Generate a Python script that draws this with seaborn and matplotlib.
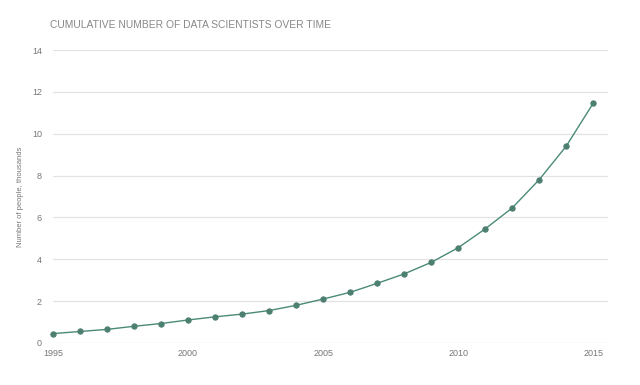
import pandas as pd
import matplotlib.pyplot as plt
import seaborn as sns

# Data
years = list(range(1995, 2016))
people = [0.45, 0.55, 0.65, 0.8, 0.93, 1.1, 1.25, 1.38, 1.55, 1.8, 2.1,
          2.42, 2.85, 3.3, 3.85, 4.55, 5.45, 6.45, 7.8, 9.4, 11.45]
x_ticks = [1995, 2000, 2005, 2010, 2015]
y_ticks = [0, 2, 4, 6, 8, 10, 12, 14]

df = pd.DataFrame({"year": years, "people": people})

sns.set_style("white")
plt.rcParams["font.family"] = ["Liberation Sans", "DejaVu Sans"]

fig = plt.figure(figsize=(6.4, 3.85), dpi=100)
ax = fig.add_axes([53 / 640, 1 - 343 / 385, (608 - 53) / 640, (343 - 50) / 385])

sns.lineplot(data=df, x="year", y="people", ax=ax, color="#4a8a78",
             linewidth=1.0, marker="o", markersize=3.8, clip_on=False,
             markerfacecolor="#4c7f70", markeredgecolor="#4c7f70")

ax.set_xlim(1995, 2015.55)
ax.set_ylim(0, 14)
ax.set_xticks(x_ticks)
ax.set_yticks(y_ticks)
ax.grid(axis="y", color="#e3e3e3", linewidth=0.9)
ax.set_axisbelow(True)
for s in ax.spines.values():
    s.set_visible(False)
ax.tick_params(axis="both", length=0, labelsize=6.5, colors="#777777")
ax.tick_params(axis="y", pad=8)
ax.tick_params(axis="x", pad=4)
ax.set_xlabel("")
ax.set_ylabel("Number of people, thousands", fontsize=5.5, color="#777777", labelpad=6)

fig.text(50 / 640, 1 - 25 / 385, "CUMULATIVE NUMBER OF DATA SCIENTISTS OVER TIME",
         fontsize=7.4, color="#888888", va="center", ha="left")

fig.savefig("out.png", dpi=100)
